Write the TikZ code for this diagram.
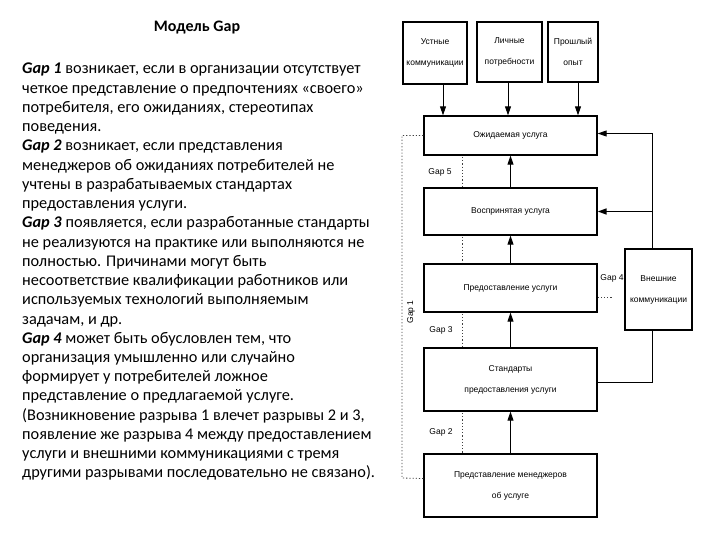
\documentclass[tikz,border=0pt]{standalone}
\usepackage{fontspec}
\setmainfont{Carlito}
\newfontfamily\diagfont{Liberation Sans}
\usetikzlibrary{arrows.meta}
\tikzset{
  box/.style={draw, line width=1.3pt, fill=white, align=center, inner sep=0pt,
    font=\diagfont\fontsize{8.5}{21}\selectfont},
  arr/.style={-{Triangle[length=9pt,width=6pt]}, line width=0.9pt},
  conn/.style={line width=0.9pt},
  gapline/.style={line width=0.8pt, dash pattern=on 1.2pt off 2pt, black!75},
  gaplbl/.style={font=\diagfont\fontsize{8.5}{10}\selectfont, inner sep=0pt}
}
\begin{document}
\begin{tikzpicture}[x=1pt,y=-1pt]
\useasboundingbox[fill=white] (0,0) rectangle (720,540);
% left text
\node[font=\bfseries\fontsize{16}{18}\selectfont] (title) at (197,28) {Модель Gap};
\node[anchor=north west, align=left, inner sep=0pt,
      font=\fontsize{16.3}{19.24}\selectfont] (txt) at (22,63)
{\textbf{\textit{Gap 1}} возникает, если в организации отсутствует\\
четкое представление о предпочтениях «своего»\\
потребителя, его ожиданиях, стереотипах\\
поведения.\\
\textbf{\textit{Gap 2}} возникает, если представления\\
менеджеров об ожиданиях потребителей не\\
учтены в разрабатываемых стандартах\\
предоставления услуги.\\
\textbf{\textit{Gap 3}} появляется, если разработанные стандарты\\
не реализуются на практике или выполняются не\\
полностью. Причинами могут быть\\
несоответствие квалификации работников или\\
используемых технологий выполняемым\\
задачам, и др.\\
\textbf{\textit{Gap 4}} может быть обусловлен тем, что\\
организация умышленно или случайно\\
формирует у потребителей ложное\\
представление о предлагаемой услуге.\\
(Возникновение разрыва 1 влечет разрывы 2 и 3,\\
появление же разрыва 4 между предоставлением\\
услуги и внешними коммуникациями с тремя\\
другими разрывами последовательно не связано).};
% middle dotted line behind boxes
\draw[gapline] (462,157) -- (462,453);
% boxes
\node[box, minimum width=64pt, minimum height=62pt] (ust) at (435,53) {Устные\\коммуникации};
\node[box, minimum width=65pt, minimum height=60pt] (lich) at (509.5,52) {Личные\\потребности};
\node[box, minimum width=50pt, minimum height=60pt] (prosh) at (573,52) {Прошлый\\опыт};
\node[box, minimum width=173pt, minimum height=39pt] (ozh) at (510.5,135.5) {Ожидаемая услуга};
\node[box, minimum width=173pt, minimum height=47pt] (vosp) at (510.5,211.5) {Воспринятая услуга};
\node[box, minimum width=173pt, minimum height=48pt] (pred) at (510.5,288) {Предоставление услуги};
\node[box, minimum width=173pt, minimum height=63pt] (stand) at (510.5,379.5) {Стандарты\\предоставления услуги};
\node[box, minimum width=173pt, minimum height=63pt] (men) at (510.5,485.5) {Представление менеджеров\\об услуге};
\node[box, minimum width=67pt, minimum height=81pt] (ext) at (658.5,289.5) {Внешние\\коммуникации};
% arrows down
\draw[arr] ([xshift=8pt]ust.south) -- ([xshift=8pt]ust.south |- ozh.north);
\draw[arr] ([xshift=-1.5pt]lich.south) -- ([xshift=-1.5pt]lich.south |- ozh.north);
\draw[arr] ([xshift=5pt]prosh.south) -- ([xshift=5pt]prosh.south |- ozh.north);
% arrows up
\draw[arr] (vosp.north) -- (ozh.south);
\draw[arr] (pred.north) -- (vosp.south);
\draw[arr] (stand.north) -- (pred.south);
\draw[arr] (men.north) -- (stand.south);
% external communications
\draw[arr] ([xshift=-6.5pt]ext.north) |- ([yshift=2pt]ozh.east);
\draw[arr, line width=1.6pt] ([xshift=-6.5pt]ext.north |- vosp.east) -- (vosp.east);
\draw[conn] ([xshift=-6.5pt]ext.south) |- ([yshift=-3pt]stand.east);
% gap lines
\draw[gapline] (ozh.west) -| (402,478) -- ([yshift=7pt]men.west);
\draw[gapline] ([yshift=-9pt]pred.east) -- ++(14,0);
% gap labels
\node[gaplbl] (g5) at (440,172) {Gap 5};
\node[gaplbl] (g3) at (441,330) {Gap 3};
\node[gaplbl] (g2) at (441,432) {Gap 2};
\node[gaplbl] (g4) at (612,278) {Gap 4};
\node[gaplbl, rotate=90] (g1) at (411,312) {Gap 1};
\end{tikzpicture}
\end{document}
